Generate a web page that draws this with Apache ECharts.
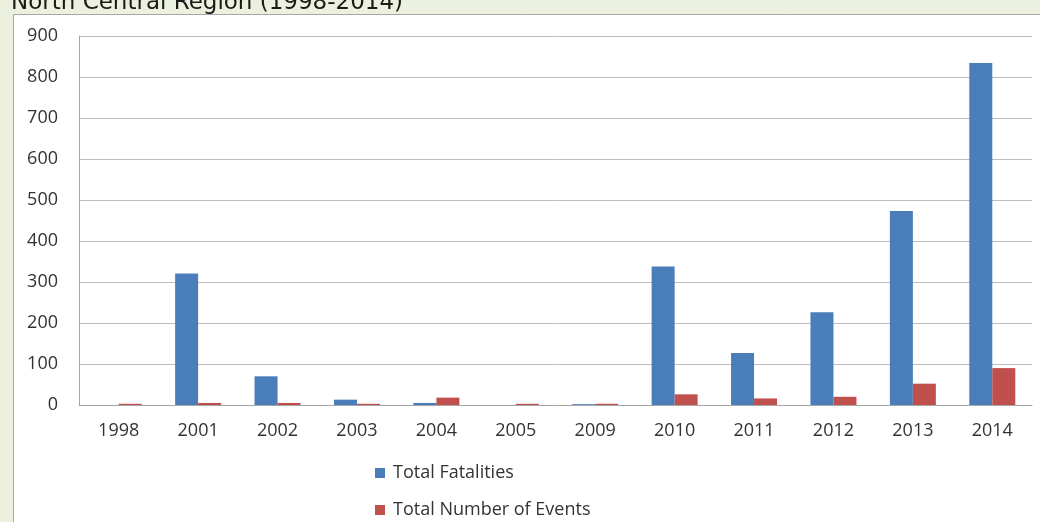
<!DOCTYPE html>
<html><head><meta charset="utf-8">
<script src="https://cdn.jsdelivr.net/npm/echarts@6/dist/echarts.min.js"></script>
<style>html,body{margin:0;padding:0;background:#ebf1de;}#c{width:1040px;height:522px;}</style>
</head><body><div id="c"></div>
<script>
var categories = ['1998','2001','2002','2003','2004','2005','2009','2010','2011','2012','2013','2014'];
var fatalities = [0, 321, 70, 13, 5, 0, 2, 338, 127, 226, 473, 834];
var events = [3, 5, 5, 3, 18, 3, 3, 26, 16, 20, 52, 90];
var yTicks = [0, 900, 100];
var seriesNames = ['Total Fatalities', 'Total Number of Events'];
var titleText = 'North Central Region (1998-2014)';

var chart = echarts.init(document.getElementById('c'));
var font = 'Open Sans, Liberation Sans, sans-serif';
function legendAt(top, name) {
  return {
    orient: 'vertical', left: 370, top: top,
    itemWidth: 10, itemHeight: 10, icon: 'rect', itemGap: 4,
    textStyle: { fontFamily: font, fontSize: 18, color: '#333333', padding: [0,0,0,3] },
    data: [name]
  };
}
chart.setOption({
  backgroundColor: '#ebf1de',
  animation: false,
  graphic: [
    { type: 'rect', left: 13, top: 14, shape: { width: 1040, height: 520 },
      style: { fill: '#ffffff', stroke: '#a6a6a6', lineWidth: 1 }, z: -10 },
    { type: 'text', left: 11, top: -8, style: { text: titleText, fill: '#1a1a1a', font: '23px DejaVu Sans, Verdana, sans-serif' } }
  ],
  grid: { left: 79, right: 8, top: 36, bottom: 117 },
  legend: [legendAt(459, seriesNames[0]), legendAt(496, seriesNames[1])],
  xAxis: {
    type: 'category', data: categories,
    axisLine: { lineStyle: { color: '#a6a6a6' } },
    axisTick: { show: false },
    axisLabel: { fontFamily: font, fontSize: 18, color: '#333333', margin: 17 }
  },
  yAxis: {
    type: 'value', min: yTicks[0], max: yTicks[1], interval: yTicks[2],
    axisLine: { show: true, lineStyle: { color: '#a6a6a6' } },
    axisTick: { show: false },
    splitLine: { lineStyle: { color: '#bdbdbd' } },
    axisLabel: { fontFamily: font, fontSize: 18, color: '#333333', margin: 21 }
  },
  series: [
    { name: seriesNames[0], type: 'bar', data: fatalities, barWidth: 23, barGap: '0%',
      itemStyle: { color: '#4a7ebb' } },
    { name: seriesNames[1], type: 'bar', data: events, barWidth: 23,
      itemStyle: { color: '#c0504d' } }
  ]
});
</script></body></html>
